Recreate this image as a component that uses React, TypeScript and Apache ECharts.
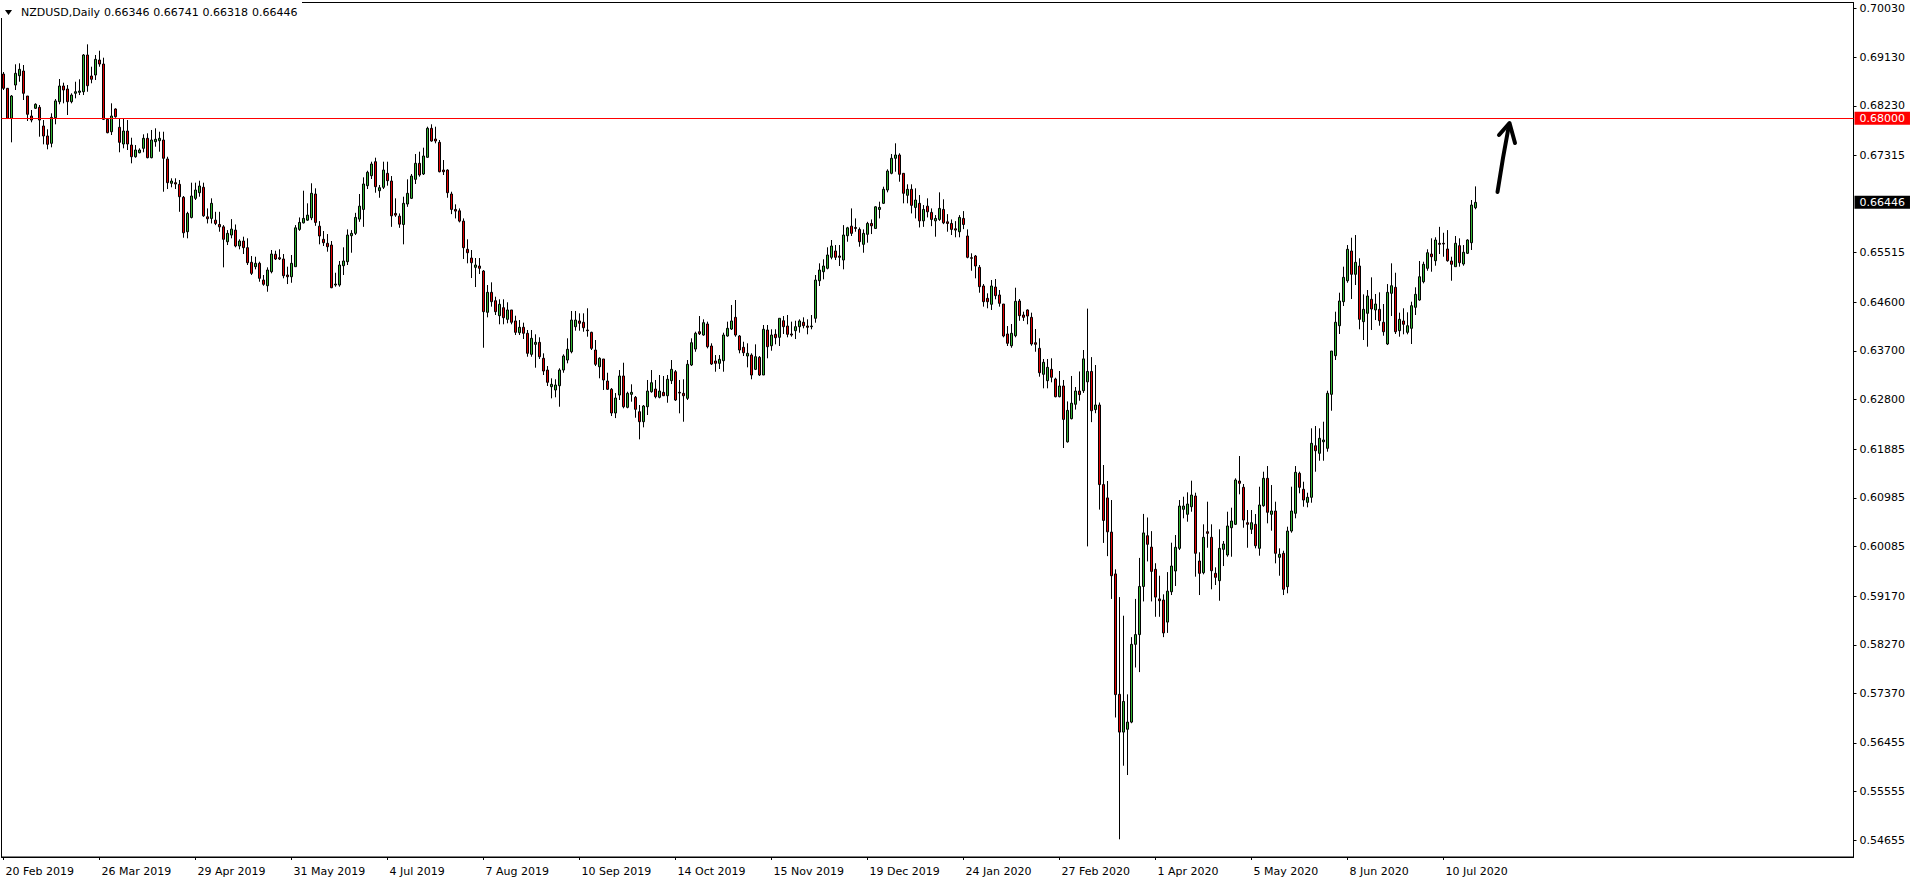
import React, { useEffect, useRef } from 'react';
import * as echarts from 'echarts';

const opens = [0.68817,0.68553,0.67999,0.68614,0.68786,0.68873,0.68411,0.68041,0.68184,0.68202,0.67857,0.67672,0.67537,0.68010,0.68306,0.68596,0.68540,0.68306,0.68461,0.68479,0.68490,0.69169,0.68781,0.68799,0.69076,0.69002,0.67980,0.67751,0.68171,0.67833,0.67524,0.67764,0.67505,0.67289,0.67363,0.67444,0.67629,0.67271,0.67566,0.67585,0.67598,0.67247,0.66798,0.66809,0.66779,0.66539,0.65903,0.66167,0.66520,0.66624,0.66724,0.66178,0.66149,0.66117,0.66037,0.65993,0.65718,0.65842,0.65933,0.65639,0.65731,0.65608,0.65338,0.65257,0.65319,0.65010,0.64905,0.65164,0.65486,0.65423,0.65399,0.65103,0.65071,0.65257,0.65946,0.66067,0.66117,0.66160,0.66600,0.66006,0.65763,0.65689,0.65657,0.64918,0.64918,0.65275,0.65349,0.65829,0.65873,0.66136,0.66315,0.66754,0.66938,0.67197,0.66661,0.66724,0.66982,0.66840,0.66241,0.66191,0.66037,0.66415,0.66520,0.66871,0.67167,0.66970,0.67278,0.67814,0.67616,0.67555,0.67043,0.67043,0.66600,0.66315,0.66289,0.66099,0.65578,0.65417,0.65245,0.65269,0.65177,0.64414,0.64783,0.64628,0.64351,0.64499,0.64284,0.64457,0.64254,0.64037,0.64137,0.64026,0.63637,0.63822,0.63859,0.63564,0.63347,0.63039,0.62978,0.63057,0.63347,0.63532,0.63685,0.64148,0.64254,0.64230,0.64087,0.64044,0.63717,0.63408,0.63551,0.63144,0.62991,0.62553,0.62885,0.63237,0.62658,0.62898,0.62843,0.62577,0.62392,0.62669,0.62946,0.62996,0.62843,0.62935,0.62872,0.63150,0.63316,0.62935,0.62917,0.62824,0.63440,0.63735,0.64055,0.63994,0.64198,0.63791,0.63514,0.63471,0.63519,0.63976,0.64105,0.64321,0.63976,0.63767,0.63606,0.63624,0.63360,0.63582,0.63255,0.64087,0.63796,0.64007,0.63952,0.64258,0.64160,0.64013,0.64074,0.64148,0.64230,0.64160,0.64148,0.64303,0.64997,0.65164,0.65227,0.65430,0.65547,0.65454,0.65380,0.65829,0.66006,0.65982,0.65946,0.65670,0.65855,0.66056,0.65964,0.66315,0.66428,0.66674,0.66982,0.67260,0.67321,0.66982,0.66576,0.66687,0.66352,0.66428,0.66104,0.66376,0.66260,0.66104,0.66130,0.66315,0.66086,0.66056,0.65957,0.65903,0.66149,0.65824,0.65423,0.65454,0.65245,0.64900,0.64672,0.64562,0.64881,0.64734,0.64567,0.64013,0.63796,0.63981,0.64623,0.64364,0.64457,0.64321,0.63852,0.63748,0.63268,0.63150,0.63360,0.63181,0.62854,0.63052,0.62020,0.62448,0.62714,0.62959,0.62965,0.63129,0.63321,0.62616,0.62701,0.61230,0.60984,0.60352,0.59579,0.57354,0.56656,0.56708,0.56841,0.58278,0.58458,0.59348,0.60285,0.60075,0.59664,0.59117,0.59097,0.58689,0.59250,0.59633,0.60052,0.60773,0.60681,0.60821,0.61019,0.59818,0.59602,0.60359,0.60256,0.59590,0.59454,0.60034,0.59929,0.60433,0.60496,0.61296,0.61180,0.60526,0.60404,0.60496,0.60052,0.60840,0.61346,0.60681,0.60742,0.59886,0.59960,0.59343,0.60372,0.60699,0.61438,0.61143,0.60902,0.60995,0.61948,0.61808,0.62022,0.61900,0.62898,0.63612,0.64166,0.64610,0.64997,0.65547,0.65116,0.65269,0.64241,0.64395,0.64654,0.64457,0.64469,0.64230,0.63828,0.64765,0.64876,0.64074,0.64254,0.64044,0.64118,0.64506,0.64641,0.64979,0.65227,0.65491,0.65367,0.65689,0.65689,0.65584,0.65362,0.65257,0.65645,0.65306,0.65504,0.65700,0.66346];

const highs = [0.68854,0.68559,0.68429,0.68997,0.69015,0.68984,0.68411,0.68152,0.68276,0.68245,0.67967,0.67796,0.68091,0.68355,0.68725,0.68657,0.68614,0.68461,0.68675,0.68720,0.69187,0.69366,0.68952,0.69169,0.69248,0.69119,0.67999,0.68276,0.68184,0.67986,0.67986,0.67967,0.67640,0.67505,0.67444,0.67703,0.67722,0.67783,0.67814,0.67751,0.67751,0.67289,0.66890,0.66890,0.66859,0.66563,0.66271,0.66809,0.66809,0.66846,0.66809,0.66334,0.66520,0.66271,0.66271,0.66025,0.65933,0.66136,0.66037,0.65763,0.65811,0.65781,0.65454,0.65441,0.65349,0.65103,0.65245,0.65565,0.65552,0.65578,0.65491,0.65257,0.65473,0.66025,0.66167,0.66661,0.66428,0.66798,0.66705,0.66099,0.65916,0.65860,0.65731,0.65145,0.65362,0.65615,0.65946,0.65933,0.66252,0.66600,0.66908,0.67030,0.67197,0.67271,0.66767,0.67197,0.67197,0.66932,0.66520,0.66241,0.66550,0.66871,0.66970,0.67339,0.67382,0.67456,0.67844,0.67888,0.67844,0.67598,0.67228,0.67056,0.66642,0.66409,0.66334,0.66149,0.65763,0.65565,0.65417,0.65417,0.65195,0.64918,0.64968,0.64702,0.64654,0.64654,0.64599,0.64457,0.64351,0.64271,0.64222,0.64087,0.64087,0.64007,0.63952,0.63656,0.63421,0.63194,0.63176,0.63379,0.63637,0.63933,0.64438,0.64438,0.64395,0.64395,0.64488,0.64055,0.63902,0.63582,0.63551,0.63297,0.63015,0.62922,0.63347,0.63482,0.62946,0.63083,0.62867,0.62701,0.62701,0.63163,0.63347,0.63163,0.63255,0.63237,0.63255,0.63532,0.63347,0.63163,0.63176,0.63532,0.63933,0.64055,0.64345,0.64284,0.64241,0.63841,0.63624,0.63624,0.64037,0.64241,0.64549,0.64641,0.63994,0.63870,0.63841,0.63656,0.63822,0.63606,0.64179,0.64179,0.64100,0.64100,0.64303,0.64345,0.64364,0.64241,0.64258,0.64284,0.64321,0.64284,0.64364,0.65103,0.65319,0.65393,0.65615,0.65750,0.65657,0.65657,0.66025,0.65993,0.66334,0.66149,0.65982,0.65946,0.66086,0.66130,0.66376,0.66458,0.66735,0.67056,0.67339,0.67537,0.67352,0.66982,0.66779,0.66779,0.66705,0.66581,0.66396,0.66520,0.66334,0.66210,0.66631,0.66502,0.66228,0.66130,0.66099,0.66210,0.66284,0.65946,0.65504,0.65473,0.65288,0.64936,0.64765,0.65010,0.65029,0.64826,0.64567,0.64160,0.64198,0.64868,0.64660,0.64425,0.64469,0.64407,0.64105,0.63933,0.63551,0.63551,0.63564,0.63205,0.63329,0.63163,0.62767,0.63237,0.63033,0.63321,0.63717,0.64482,0.63586,0.63440,0.62747,0.61592,0.61296,0.60945,0.59664,0.59151,0.58807,0.57354,0.58411,0.59117,0.59875,0.60688,0.60622,0.60370,0.59777,0.59546,0.59202,0.59613,0.60156,0.60298,0.60945,0.61006,0.61087,0.61302,0.61080,0.59979,0.60496,0.60914,0.60496,0.59701,0.60404,0.60187,0.60729,0.60803,0.61346,0.61758,0.61241,0.60760,0.60760,0.60686,0.61191,0.61468,0.61573,0.61222,0.60914,0.60052,0.60008,0.60452,0.61191,0.61573,0.61468,0.61283,0.61080,0.62270,0.62313,0.62270,0.62392,0.62965,0.63698,0.64425,0.64776,0.65257,0.65657,0.65792,0.65842,0.65412,0.64746,0.64826,0.65060,0.64752,0.64783,0.64567,0.64936,0.65319,0.65145,0.64407,0.64488,0.64414,0.64610,0.64876,0.65362,0.65349,0.65578,0.65781,0.65800,0.65993,0.65884,0.65933,0.65441,0.65824,0.65781,0.65657,0.65763,0.66489,0.66741];

const lows = [0.68522,0.67986,0.67555,0.68522,0.68675,0.68337,0.67949,0.67925,0.68171,0.67659,0.67518,0.67426,0.67463,0.67888,0.68258,0.68276,0.68060,0.68276,0.68368,0.68429,0.68429,0.68490,0.68646,0.68707,0.68952,0.67967,0.67722,0.67690,0.68010,0.67371,0.67444,0.67413,0.67167,0.67271,0.67352,0.67371,0.67260,0.67260,0.67474,0.67382,0.66642,0.66692,0.66724,0.66692,0.66271,0.65792,0.65781,0.66149,0.66489,0.66550,0.66178,0.66056,0.66056,0.66025,0.65903,0.65245,0.65657,0.65781,0.65615,0.65578,0.65491,0.65288,0.65103,0.65208,0.64979,0.64905,0.64794,0.65134,0.65380,0.65380,0.65042,0.64936,0.64960,0.65257,0.65920,0.66056,0.66104,0.66117,0.66012,0.65670,0.65639,0.65534,0.64860,0.64887,0.64887,0.65103,0.65288,0.65515,0.65842,0.66086,0.65993,0.66692,0.66877,0.66624,0.66531,0.66692,0.66754,0.65993,0.66178,0.65975,0.65670,0.66363,0.66507,0.66785,0.66920,0.66951,0.67271,0.67566,0.67537,0.67000,0.66951,0.66531,0.66228,0.66149,0.66075,0.65399,0.65319,0.65047,0.64881,0.65121,0.63759,0.64321,0.64518,0.64364,0.64192,0.64192,0.64211,0.64192,0.63994,0.63994,0.63920,0.63593,0.63593,0.63390,0.63551,0.63255,0.63052,0.62824,0.62843,0.62669,0.63297,0.63471,0.63656,0.64074,0.64074,0.64055,0.63963,0.63717,0.63421,0.63194,0.62978,0.62978,0.62497,0.62459,0.62793,0.62640,0.62640,0.62762,0.62466,0.62066,0.62288,0.62516,0.62928,0.62824,0.62824,0.62867,0.62743,0.63089,0.62775,0.62547,0.62392,0.62793,0.63421,0.63685,0.63994,0.63981,0.63748,0.63440,0.63316,0.63366,0.63316,0.63963,0.64087,0.63963,0.63656,0.63606,0.63397,0.63176,0.63347,0.63237,0.63255,0.63564,0.63704,0.63822,0.63791,0.64013,0.63952,0.63963,0.63920,0.64037,0.64118,0.64007,0.64100,0.64222,0.64900,0.65023,0.65208,0.65393,0.65380,0.65269,0.65208,0.65718,0.65824,0.65903,0.65626,0.65515,0.65700,0.65860,0.65957,0.66149,0.66415,0.66631,0.66964,0.67012,0.66827,0.66428,0.66428,0.66241,0.66149,0.65982,0.65993,0.66167,0.66006,0.65811,0.66104,0.66043,0.65903,0.65842,0.65800,0.65800,0.65951,0.65412,0.65182,0.65042,0.64776,0.64518,0.64488,0.64457,0.64654,0.64518,0.63952,0.63791,0.63759,0.63952,0.64258,0.64254,0.64192,0.63796,0.63685,0.63224,0.63009,0.63009,0.63120,0.62843,0.62843,0.61906,0.62007,0.62435,0.62616,0.62780,0.62924,0.60088,0.62384,0.62549,0.60768,0.60152,0.59908,0.59117,0.56926,0.54675,0.56035,0.55863,0.56820,0.57850,0.57765,0.59071,0.59810,0.59071,0.58787,0.58787,0.58411,0.58489,0.59189,0.59356,0.60021,0.60607,0.60544,0.60729,0.59528,0.59189,0.59572,0.60063,0.59295,0.59374,0.59084,0.59725,0.59897,0.59897,0.60483,0.61050,0.60433,0.60063,0.60317,0.60052,0.59916,0.60821,0.60514,0.60378,0.59775,0.59546,0.59189,0.59221,0.60341,0.60607,0.61069,0.60821,0.60810,0.60895,0.61468,0.61671,0.61671,0.61838,0.62595,0.63532,0.64013,0.64530,0.64960,0.64660,0.64918,0.64100,0.63902,0.63778,0.64087,0.64271,0.64166,0.63981,0.63809,0.64345,0.64013,0.63963,0.64007,0.64007,0.63828,0.64364,0.64628,0.64949,0.65182,0.65164,0.65275,0.65491,0.65441,0.65349,0.64997,0.65257,0.65257,0.65275,0.65491,0.65565,0.66318];

const closes = [0.68553,0.67999,0.68411,0.68830,0.68904,0.68461,0.68073,0.67967,0.68258,0.67967,0.67672,0.67518,0.68017,0.68320,0.68596,0.68522,0.68306,0.68429,0.68490,0.68503,0.69169,0.68601,0.68720,0.69089,0.69002,0.67980,0.67733,0.68041,0.68028,0.67555,0.67764,0.67524,0.67289,0.67413,0.67413,0.67629,0.67271,0.67598,0.67611,0.67629,0.67260,0.66809,0.66840,0.66785,0.66550,0.65884,0.66241,0.66563,0.66674,0.66748,0.66197,0.66143,0.66428,0.66056,0.65993,0.65763,0.65873,0.65951,0.65639,0.65731,0.65608,0.65330,0.65134,0.65319,0.65042,0.64931,0.65195,0.65491,0.65399,0.65399,0.65090,0.65071,0.65319,0.65975,0.66075,0.66149,0.66210,0.66613,0.66075,0.65824,0.65700,0.65626,0.64868,0.64936,0.65288,0.65362,0.65842,0.65873,0.66167,0.66376,0.66785,0.67001,0.67154,0.66735,0.66716,0.67043,0.66846,0.66197,0.66210,0.66043,0.66428,0.66613,0.66932,0.67167,0.66951,0.67302,0.67814,0.67579,0.67579,0.67012,0.67012,0.66624,0.66315,0.66284,0.66099,0.65608,0.65515,0.65330,0.65288,0.65227,0.64425,0.64783,0.64610,0.64425,0.64562,0.64314,0.64457,0.64230,0.64044,0.64137,0.64026,0.63656,0.63933,0.63859,0.63593,0.63329,0.63120,0.63083,0.63070,0.63347,0.63606,0.63730,0.64271,0.64271,0.64211,0.64129,0.64074,0.63748,0.63453,0.63564,0.63163,0.62991,0.62553,0.62830,0.63237,0.62669,0.62917,0.62935,0.62621,0.62392,0.62682,0.62959,0.63113,0.62854,0.62959,0.62872,0.63176,0.63360,0.62793,0.62922,0.62872,0.63453,0.63852,0.64026,0.64018,0.64222,0.63778,0.63458,0.63471,0.63545,0.63994,0.64118,0.64254,0.63994,0.63717,0.63667,0.63656,0.63255,0.63593,0.63255,0.64100,0.63778,0.63994,0.63944,0.64303,0.64148,0.64007,0.63994,0.64148,0.64254,0.64166,0.64137,0.64160,0.65010,0.65195,0.65269,0.65473,0.65639,0.65430,0.65430,0.65842,0.65975,0.65873,0.65964,0.65718,0.65873,0.66056,0.66012,0.66363,0.66352,0.66687,0.67025,0.67260,0.67321,0.66964,0.66613,0.66687,0.66390,0.66489,0.66104,0.66315,0.66271,0.66130,0.66149,0.66334,0.66067,0.66056,0.65946,0.65933,0.66167,0.66037,0.65430,0.65412,0.65269,0.64887,0.64610,0.64610,0.64900,0.64721,0.64580,0.63976,0.63841,0.64026,0.64617,0.64351,0.64321,0.64345,0.63828,0.63822,0.63297,0.63490,0.63397,0.63213,0.62854,0.63052,0.62435,0.62601,0.62734,0.62959,0.62893,0.63553,0.63321,0.62595,0.62701,0.61230,0.60568,0.60357,0.59546,0.57349,0.56656,0.57223,0.56841,0.58278,0.58458,0.59348,0.60337,0.60126,0.59626,0.59151,0.59084,0.58489,0.59261,0.59725,0.60071,0.60834,0.60834,0.60871,0.61037,0.59960,0.59590,0.60256,0.60329,0.59638,0.59516,0.60052,0.60132,0.60465,0.60557,0.61315,0.61254,0.60575,0.60496,0.60526,0.60100,0.60853,0.61346,0.60718,0.60742,0.59960,0.59942,0.59295,0.60372,0.60742,0.61457,0.61180,0.60945,0.60995,0.61993,0.61856,0.62085,0.62054,0.62917,0.63698,0.64230,0.64623,0.65060,0.65578,0.65116,0.65338,0.64284,0.64469,0.64715,0.64475,0.64567,0.64258,0.64055,0.64783,0.64905,0.64055,0.64284,0.64192,0.64166,0.64536,0.64746,0.65071,0.65301,0.65515,0.65441,0.65750,0.65670,0.65676,0.65367,0.65301,0.65689,0.65330,0.65523,0.65750,0.66396,0.66446];

const xTickLabels = ['20 Feb 2019', '26 Mar 2019', '29 Apr 2019', '31 May 2019', '4 Jul 2019', '7 Aug 2019', '10 Sep 2019', '14 Oct 2019', '15 Nov 2019', '19 Dec 2019', '24 Jan 2020', '27 Feb 2020', '1 Apr 2020', '5 May 2020', '8 Jun 2020', '10 Jul 2020'];
const barsPerLabel = 24;
const totalSlots = 463;

const yTickValues = [0.54655, 0.55555, 0.56455, 0.5737, 0.5827, 0.5917, 0.60085, 0.60985, 0.61885, 0.628, 0.637, 0.646, 0.65515, 0.67315, 0.6823, 0.6913, 0.7003];
const yMin = 0.54348;
const yMax = 0.70139;

const levelPrice = 0.68;
const lastPrice = 0.66446;
const headerSymbol = 'NZDUSD,Daily';
const headerValues = ['0.66346', '0.66741', '0.66318', '0.66446'];

const FONT = 'DejaVu Sans';

export default function App() {
  const ref = useRef<HTMLDivElement>(null);
  useEffect(() => {
    if (!ref.current) return;
    const chart = echarts.init(ref.current, null, { renderer: 'svg' });
    const categories = Array.from({ length: totalSlots }, (_, i) => String(i));
    const data = opens.map((o, i) => [o, closes[i], lows[i], highs[i]]);
    const isLabelIdx = (i: number) => i % barsPerLabel === 0 && i / barsPerLabel < xTickLabels.length;

    chart.setOption({
      animation: false,
      backgroundColor: '#ffffff',
      grid: {
        left: 1.5,
        top: 2.5,
        width: 1852,
        height: 854.5,
        show: true,
        borderColor: '#000',
        borderWidth: 1,
        backgroundColor: 'transparent',
      },
      xAxis: {
        type: 'category',
        data: categories,
        boundaryGap: true,
        axisLine: { show: true, lineStyle: { color: '#000', width: 1 } },
        axisTick: {
          show: true,
          alignWithLabel: true,
          interval: (i: number) => isLabelIdx(i),
          length: 3,
          lineStyle: { color: '#000' },
        },
        axisLabel: {
          interval: (i: number) => isLabelIdx(i),
          formatter: (_v: string, i: number) => xTickLabels[i / barsPerLabel] ?? '',
          align: 'left',
          padding: [0, 0, 0, 2],
          margin: 9,
          color: '#000',
          fontFamily: FONT,
          fontSize: 11,
        },
        splitLine: { show: false },
      },
      yAxis: {
        type: 'value',
        position: 'right',
        min: yMin,
        max: yMax,
        scale: true,
        axisLine: { show: true, lineStyle: { color: '#000', width: 1 } },
        axisTick: {
          show: true,
          customValues: yTickValues,
          length: 3,
          lineStyle: { color: '#000' },
        },
        axisLabel: {
          customValues: yTickValues,
          formatter: (v: number) => v.toFixed(5),
          margin: 6,
          color: '#000',
          fontFamily: FONT,
          fontSize: 11,
        },
        splitLine: { show: false },
      },
      series: [
        {
          type: 'candlestick',
          data,
          barWidth: 2,
          itemStyle: {
            color: '#32b432',
            color0: '#e00000',
            borderColor: '#000',
            borderColor0: '#000',
            borderColorDoji: '#000',
            borderWidth: 1,
          },
          markLine: {
            silent: true,
            symbol: ['none', 'none'],
            precision: 5,
            animation: false,
            data: [
              {
                yAxis: levelPrice,
                lineStyle: { color: '#ff0000', width: 1, type: 'solid' },
                label: {
                  show: true,
                  position: 'end',
                  distance: 1,
                  formatter: levelPrice.toFixed(5),
                  color: '#fff',
                  backgroundColor: '#ff0000',
                  padding: [1, 5, 1, 5],
                  fontFamily: FONT,
                  fontSize: 11,
                },
              },
              {
                yAxis: lastPrice,
                lineStyle: { color: 'rgba(0,0,0,0)', width: 1, type: 'solid' },
                label: {
                  show: true,
                  position: 'end',
                  distance: 1,
                  formatter: lastPrice.toFixed(5),
                  color: '#fff',
                  backgroundColor: '#000',
                  padding: [1, 5, 1, 5],
                  fontFamily: FONT,
                  fontSize: 11,
                },
              },
            ],
          },
        },
      ],
      graphic: [
        { type: 'rect', shape: { x: 0, y: 0, width: 302, height: 18 }, style: { fill: '#fff' }, z: 100 },
        { type: 'polygon', shape: { points: [[5, 10], [12, 10], [8.5, 15]] }, style: { fill: '#000' }, z: 101 },
        { type: 'text', x: 21, y: 12.5, style: { text: headerSymbol, fontFamily: FONT, fontSize: 11, fill: '#000', verticalAlign: 'middle' }, z: 101 },
        ...headerValues.map((t, i) => ({
          type: 'text', x: 104 + i * 49.3, y: 12.5,
          style: { text: t, fontFamily: FONT, fontSize: 11, fill: '#000', verticalAlign: 'middle' }, z: 101,
        })),
        { type: 'polyline', shape: { points: [[1497.5, 192], [1503, 158], [1509, 125]] }, style: { stroke: '#000', lineWidth: 4, lineCap: 'round', lineJoin: 'round', fill: null }, z: 101 },
        { type: 'polyline', shape: { points: [[1499, 135], [1509.5, 123], [1515, 143]] }, style: { stroke: '#000', lineWidth: 4, lineCap: 'round', lineJoin: 'round', fill: null }, z: 101 },
      ],
    });
    return () => chart.dispose();
  }, []);
  return <div ref={ref} style={{ position: 'fixed', left: 0, top: 0, width: 1916, height: 884, background: '#fff' }} />;
}
